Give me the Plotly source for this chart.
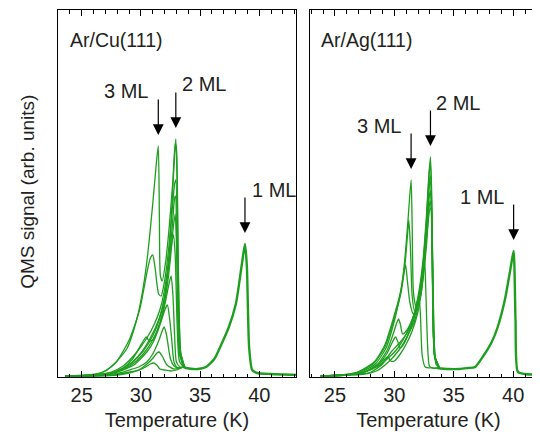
import plotly.graph_objects as go

# ---------------- Ar/Cu(111) ----------------
cu_T_3ml = [23.6, 25.5, 26.8, 27.65, 28.8, 29.66, 30.23, 30.6, 31.0, 31.3, 31.47, 31.56, 31.65, 31.8, 32.1, 32.4, 32.7, 32.9, 33.0, 33.15, 33.35, 33.7]
cu_S_3ml = [0, 1, 4, 11, 27, 57, 91, 124, 172, 212, 230, 160, 100, 95, 115, 150, 195, 232, 228, 110, 25, 9]
cu_T_2ml = [23.6, 26.0, 27.5, 28.5, 29.66, 30.5, 31.1, 31.6, 31.96, 32.4, 32.67, 32.85, 32.95, 33.05, 33.2, 33.4, 33.7]
cu_S_2ml = [0, 1, 4, 10, 24, 38, 51, 66, 84, 124, 182, 222, 237, 200, 80, 18, 9]
cu_T_c3 = [23.6, 26.0, 27.0, 27.93, 29.05, 29.91, 30.52, 30.8, 31.0, 31.2, 31.5, 31.7, 32.0, 32.3, 32.6, 32.85, 32.95, 33.1, 33.3, 33.7]
cu_S_c3 = [0, 1, 5, 14, 37, 67, 104, 118, 121, 108, 82, 80, 95, 122, 160, 192, 196, 120, 25, 9]
cu_T_c4 = [23.6, 26.0, 27.5, 28.5, 29.3, 29.9, 30.25, 30.45, 30.7, 31.0, 31.4, 31.8, 32.2, 32.5, 32.75, 32.9, 33.05, 33.25, 33.7]
cu_S_c4 = [0, 1, 3, 8, 17, 29, 36, 39, 35, 36, 46, 62, 88, 118, 150, 162, 110, 25, 9]
cu_T_c5 = [23.6, 26.5, 28.0, 29.2, 30.2, 31.0, 31.6, 32.0, 32.3, 32.55, 32.75, 32.9, 33.05, 33.25, 33.6]
cu_S_c5 = [0, 1, 5, 13, 25, 40, 58, 80, 105, 128, 141, 120, 55, 15, 9]
cu_T_c6 = [23.6, 26.5, 28.0, 29.2, 30.2, 31.0, 31.6, 32.0, 32.3, 32.55, 32.7, 32.85, 33.0, 33.3, 33.6]
cu_S_c6 = [0, 1, 4, 11, 22, 36, 52, 70, 88, 100, 82, 40, 14, 9, 9]
cu_T_c7 = [23.6, 26.5, 28.0, 29.4, 30.5, 31.0, 31.4, 31.8, 32.05, 32.24, 32.45, 32.6, 32.8, 33.1, 33.6]
cu_S_c7 = [0, 1, 4, 11, 24, 33, 44, 58, 67, 71, 55, 37, 14, 8, 9]
cu_T_c8 = [24.5, 27.0, 28.2, 29.05, 29.8, 30.5, 31.0, 31.5, 31.8, 31.96, 32.15, 32.5, 32.8, 33.2, 33.6]
cu_S_c8 = [0, 1, 3, 6, 9, 14, 22, 35, 45, 49, 42, 17, 10, 8, 9]
cu_T_c9 = [25.0, 27.5, 29.1, 29.8, 30.2, 30.7, 31.1, 31.35, 31.53, 31.8, 32.2, 32.8, 33.3, 33.6]
cu_S_c9 = [0, 1, 4, 6, 9, 14, 19, 23, 24, 20, 11, 7, 8, 9]
cu_T_c10 = [25.0, 28.0, 29.0, 29.9, 30.4, 30.8, 31.09, 31.35, 31.6, 32.0, 32.5, 33.0, 33.6]
cu_S_c10 = [0, 1, 3, 6, 9, 12, 13, 11, 7, 6, 5, 6, 9]
cu_T_c11 = [23.6, 26.2, 27.8, 29.0, 30.0, 30.8, 31.5, 32.0, 32.35, 32.65, 32.85, 32.92, 33.05, 33.25, 33.6]
cu_S_c11 = [0, 1, 4, 11, 23, 38, 56, 78, 110, 150, 178, 180, 120, 22, 9]
cu_T_1ml = [33.6, 33.8, 34.4, 34.83, 35.5, 36.2, 36.81, 37.4, 38.02, 38.53, 38.79, 38.95, 39.14, 39.4, 39.8, 41.0, 43.3]
cu_S_1ml = [9, 8, 7, 7, 9, 17, 32, 48, 72, 112, 132, 110, 29, 6, 3, 2, 1]

# ---------------- Ar/Ag(111) ----------------
ag_T_3ml = [23.8, 25.5, 26.9, 28.3, 29.2, 30.0, 30.57, 30.86, 31.15, 31.41, 31.5, 31.6, 31.8, 32.1, 32.4, 32.7, 32.95, 33.05, 33.2, 33.4, 33.8]
ag_S_3ml = [0, 1, 4, 14, 31, 61, 87, 114, 156, 196, 150, 85, 70, 82, 110, 155, 205, 212, 120, 20, 8]
ag_T_2ml = [23.8, 26.0, 27.5, 28.5, 29.5, 30.3, 31.0, 31.6, 32.0, 32.4, 32.7, 32.9, 33.04, 33.15, 33.3, 33.5, 33.8]
ag_S_2ml = [0, 1, 4, 9, 18, 28, 42, 60, 80, 114, 160, 200, 219, 180, 60, 12, 8]
ag_T_c3 = [23.8, 25.5, 27.0, 28.3, 29.2, 30.0, 30.57, 30.9, 31.1, 31.22, 31.35, 31.5, 31.7, 32.0, 32.4, 32.7, 32.95, 33.05, 33.2, 33.4, 33.8]
ag_S_c3 = [0, 1, 4, 13, 29, 58, 84, 112, 140, 156, 130, 80, 65, 78, 108, 150, 195, 200, 120, 20, 8]
ag_T_c4 = [23.8, 25.8, 27.2, 28.4, 29.3, 30.0, 30.5, 30.8, 30.95, 31.1, 31.3, 31.6, 32.0, 32.4, 32.7, 32.95, 33.05, 33.2, 33.4, 33.8]
ag_S_c4 = [0, 1, 4, 12, 28, 55, 82, 103, 111, 95, 74, 62, 72, 100, 145, 190, 195, 110, 20, 8]
ag_T_c5 = [23.8, 26.0, 27.5, 28.6, 29.4, 29.9, 30.2, 30.35, 30.5, 30.7, 31.0, 31.5, 32.0, 32.4, 32.7, 32.95, 33.05, 33.2, 33.4, 33.8]
ag_S_c5 = [0, 1, 4, 12, 26, 42, 53, 57, 52, 42, 45, 56, 72, 100, 140, 180, 185, 110, 20, 8]
ag_T_c6 = [23.8, 26.0, 27.5, 28.6, 29.4, 29.8, 30.1, 30.3, 30.5, 30.8, 31.2, 31.7, 32.1, 32.5, 32.8, 33.0, 33.1, 33.25, 33.45, 33.8]
ag_S_c6 = [0, 1, 4, 11, 23, 33, 39, 34, 28, 32, 42, 55, 75, 110, 150, 175, 170, 100, 18, 8]
ag_T_c7 = [23.8, 26.0, 27.5, 28.5, 29.1, 29.45, 29.7, 30.0, 30.5, 31.0, 31.5, 32.0, 32.4, 32.7, 32.95, 33.1, 33.2, 33.4, 33.8]
ag_S_c7 = [0, 1, 4, 10, 16, 19, 15, 15, 22, 32, 45, 65, 95, 130, 165, 168, 100, 18, 8]
ag_T_c8 = [23.8, 26.0, 27.2, 28.05, 29.0, 29.73, 30.5, 31.13, 31.6, 31.97, 32.25, 32.4, 32.55, 32.65, 32.8, 32.95, 33.2, 33.8]
ag_S_c8 = [0, 1, 2, 4, 12, 24, 34, 44, 56, 71, 82, 98, 117, 85, 30, 10, 8, 8]
ag_T_c9 = [23.8, 26.0, 27.5, 28.5, 29.5, 30.4, 31.1, 31.6, 31.9, 32.1, 32.2, 32.35, 32.6, 33.2, 33.8]
ag_S_c9 = [0, 1, 2, 5, 14, 26, 40, 55, 68, 76, 60, 20, 9, 8, 8]
ag_T_1ml = [33.6, 34.5, 35.5, 36.2, 36.8, 37.6, 38.2, 38.7, 39.3, 39.8, 40.04, 40.2, 40.4, 41.0, 42.9]
ag_S_1ml = [8, 7, 7, 8, 9, 22, 34, 49, 76, 109, 125, 56, 4, 2, 1]

panel_labels = ["Ar/Cu(111)", "Ar/Ag(111)"]
peak_labels = ["3 ML", "2 ML", "1 ML"]

GREEN = "#1e9e1e"
FONT = "Liberation Sans, Arial, Helvetica, sans-serif"
TXT = "#231f20"

fig = go.Figure()

cu_multi = [(cu_T_3ml, cu_S_3ml), (cu_T_2ml, cu_S_2ml), (cu_T_c3, cu_S_c3), (cu_T_c4, cu_S_c4),
            (cu_T_c5, cu_S_c5), (cu_T_c6, cu_S_c6), (cu_T_c7, cu_S_c7), (cu_T_c8, cu_S_c8),
            (cu_T_c9, cu_S_c9), (cu_T_c10, cu_S_c10), (cu_T_c11, cu_S_c11)]
ag_multi = [(ag_T_3ml, ag_S_3ml), (ag_T_2ml, ag_S_2ml), (ag_T_c3, ag_S_c3), (ag_T_c4, ag_S_c4),
            (ag_T_c5, ag_S_c5), (ag_T_c6, ag_S_c6), (ag_T_c7, ag_S_c7), (ag_T_c8, ag_S_c8),
            (ag_T_c9, ag_S_c9)]

for xs, ys in cu_multi:
    fig.add_trace(go.Scatter(x=xs, y=ys, mode="lines", line=dict(color=GREEN, width=1.3, shape="spline", smoothing=0.6),
                             xaxis="x", yaxis="y", showlegend=False, hoverinfo="skip"))
fig.add_trace(go.Scatter(x=cu_T_1ml, y=cu_S_1ml, mode="lines", line=dict(color=GREEN, width=2.4, shape="spline", smoothing=0.6),
                         xaxis="x", yaxis="y", showlegend=False, hoverinfo="skip"))
for xs, ys in ag_multi:
    fig.add_trace(go.Scatter(x=xs, y=ys, mode="lines", line=dict(color=GREEN, width=1.3, shape="spline", smoothing=0.6),
                             xaxis="x2", yaxis="y2", showlegend=False, hoverinfo="skip"))
fig.add_trace(go.Scatter(x=ag_T_1ml, y=ag_S_1ml, mode="lines", line=dict(color=GREEN, width=2.4, shape="spline", smoothing=0.6),
                         xaxis="x2", yaxis="y2", showlegend=False, hoverinfo="skip"))

def peak(ts, ss, tmax=99):
    best = max((s, t) for t, s in zip(ts, ss) if t < tmax)
    return best[1], best[0]

annotations = []
specs = [
    ("x", "y", peak(cu_T_3ml, cu_S_3ml, 32.0), peak_labels[0], -32, 7),
    ("x", "y", peak(cu_T_2ml, cu_S_2ml), peak_labels[1], 28, 7),
    ("x", "y", peak(cu_T_1ml, cu_S_1ml), peak_labels[2], 29, 6),
    ("x2", "y2", peak(ag_T_3ml, ag_S_3ml, 32.0), peak_labels[0], -32, 6),
    ("x2", "y2", peak(ag_T_2ml, ag_S_2ml), peak_labels[1], 28, 6),
    ("x2", "y2", peak(ag_T_1ml, ag_S_1ml), peak_labels[2], -32, 6),
]
for xr, yr, (pt, ps), lab, xs, ys in specs:
    head = ps + 11
    tail = ps + 48
    annotations.append(dict(x=pt, y=head, ax=pt, ay=tail, xref=xr, yref=yr, axref=xr, ayref=yr,
                            text="", showarrow=True, arrowhead=2, arrowsize=1.8, arrowwidth=1.2,
                            arrowcolor="black"))
    annotations.append(dict(x=pt, y=tail, xref=xr, yref=yr, text=lab, showarrow=False,
                            xshift=xs, yshift=ys, xanchor="center", yanchor="middle",
                            font=dict(family=FONT, size=20, color=TXT)))

annotations.append(dict(x=10 / 238, y=0.917, xref="x domain", yref="y domain", text=panel_labels[0],
                        showarrow=False, xanchor="left", yanchor="middle",
                        font=dict(family=FONT, size=19.5, color=TXT)))
annotations.append(dict(x=9 / 237, y=0.917, xref="x2 domain", yref="y2 domain", text=panel_labels[1],
                        showarrow=False, xanchor="left", yanchor="middle",
                        font=dict(family=FONT, size=19.5, color=TXT)))
annotations.append(dict(x=-0.063, y=0.505, xref="paper", yref="paper", text="QMS signal (arb. units)",
                        showarrow=False, textangle=-90, xanchor="center", yanchor="middle",
                        font=dict(family=FONT, size=19, color=TXT)))

xaxis_common = dict(
    showline=True, linecolor="black", linewidth=1, mirror="allticks",
    tickmode="linear", tick0=0, dtick=5,
    ticks="inside", ticklen=6, tickwidth=1, tickcolor="black",
    minor=dict(tickmode="linear", tick0=0, dtick=1, ticks="inside", ticklen=3.5, tickwidth=1, tickcolor="black"),
    showgrid=False, zeroline=False, layer="above traces",
    tickfont=dict(family=FONT, size=20, color=TXT),
    title=dict(text="Temperature (K)", font=dict(family=FONT, size=20, color=TXT), standoff=7),
)
yaxis_common = dict(
    showline=True, linecolor="black", linewidth=1, mirror=True,
    ticks="", showticklabels=False, showgrid=False, zeroline=False,
    range=[-1, 366],
)

left_range = [23.0, 43.1]
right_range = [22.9, 42.85]

fig.update_layout(
    width=540, height=435,
    margin=dict(l=50, r=1, t=2, b=66),
    paper_bgcolor="white", plot_bgcolor="white",
    xaxis=dict(domain=[0, 238 / 489], range=left_range, anchor="y", **xaxis_common),
    xaxis2=dict(domain=[252 / 489, 1], range=right_range, anchor="y2", **xaxis_common),
    yaxis=dict(domain=[0, 1], anchor="x", **yaxis_common),
    yaxis2=dict(domain=[0, 1], anchor="x2", **yaxis_common),
    annotations=annotations,
)

fig.write_html("out.html")
